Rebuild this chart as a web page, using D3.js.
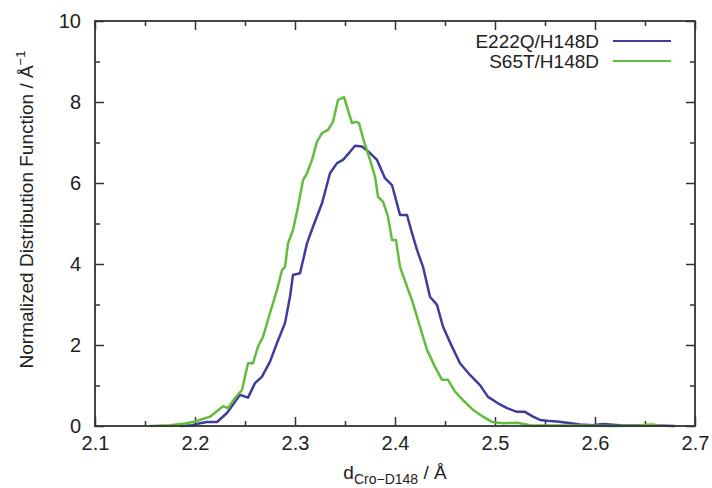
<!DOCTYPE html>
<html>
<head>
<meta charset="utf-8">
<script src="https://cdn.jsdelivr.net/npm/d3@7"></script>
<style>
  body { margin: 0; background: #fff; overflow: hidden; }
  svg { display: block; }
  svg text { font-family: "Liberation Sans", Arial, sans-serif; fill: #222; }
</style>
</head>
<body>
<svg width="712" height="488"></svg>
<script>
// S65T/H148D (green)
const greenX = [2.155, 2.175, 2.19, 2.2, 2.215, 2.228, 2.233, 2.24, 2.247, 2.253, 2.258, 2.263, 2.268, 2.275, 2.282, 2.287, 2.29, 2.293, 2.298, 2.303, 2.308, 2.312, 2.317, 2.322, 2.327, 2.333, 2.338, 2.343, 2.349, 2.353, 2.357, 2.361, 2.364, 2.368, 2.375, 2.38, 2.383, 2.388, 2.393, 2.397, 2.401, 2.405, 2.412, 2.418, 2.425, 2.432, 2.44, 2.447, 2.453, 2.46, 2.468, 2.478, 2.488, 2.497, 2.508, 2.522, 2.535, 2.552, 2.58, 2.62, 2.645, 2.652, 2.658, 2.665];
const greenY = [0, 0.02, 0.06, 0.11, 0.23, 0.49, 0.44, 0.69, 0.89, 1.55, 1.55, 1.96, 2.2, 2.79, 3.36, 3.85, 3.93, 4.51, 4.84, 5.41, 6.07, 6.24, 6.57, 7.02, 7.23, 7.31, 7.51, 8.05, 8.12, 7.8, 7.48, 7.51, 7.48, 7.11, 6.57, 6.16, 5.66, 5.54, 5.17, 4.59, 4.59, 3.93, 3.44, 3.03, 2.45, 1.88, 1.46, 1.14, 1.14, 0.85, 0.64, 0.4, 0.23, 0.1, 0.07, 0.08, 0.02, 0.01, 0.01, 0, 0.01, 0.03, 0.04, 0];

// E222Q/H148D (blue)
const blueX = [2.185, 2.195, 2.205, 2.212, 2.222, 2.232, 2.245, 2.253, 2.26, 2.267, 2.275, 2.282, 2.29, 2.295, 2.298, 2.305, 2.312, 2.318, 2.327, 2.335, 2.342, 2.348, 2.355, 2.36, 2.367, 2.375, 2.382, 2.39, 2.397, 2.403, 2.405, 2.412, 2.417, 2.422, 2.428, 2.435, 2.442, 2.448, 2.457, 2.465, 2.475, 2.485, 2.493, 2.503, 2.512, 2.522, 2.53, 2.538, 2.545, 2.552, 2.562, 2.572, 2.585, 2.598, 2.608, 2.625, 2.642, 2.66, 2.68];
const blueY = [0, 0.01, 0.07, 0.1, 0.1, 0.32, 0.77, 0.7, 1.06, 1.22, 1.59, 2.05, 2.54, 3.19, 3.73, 3.77, 4.51, 4.92, 5.5, 6.24, 6.49, 6.57, 6.77, 6.92, 6.9, 6.74, 6.57, 6.12, 5.95, 5.4, 5.21, 5.21, 4.76, 4.35, 3.93, 3.19, 2.99, 2.45, 1.96, 1.55, 1.26, 1.01, 0.72, 0.56, 0.44, 0.35, 0.35, 0.23, 0.15, 0.13, 0.11, 0.08, 0.04, 0.02, 0.05, 0.02, 0.01, 0.01, 0];

const xTicks = [2.1, 2.2, 2.3, 2.4, 2.5, 2.6, 2.7];
const xMinor = [2.15, 2.25, 2.35, 2.45, 2.55, 2.65];
const yTicks = [0, 2, 4, 6, 8, 10];
const yMinor = [1, 3, 5, 7, 9];

const series = [
  { name: "E222Q/H148D", xs: blueX, ys: blueY, color: "#3d3d9e" },
  { name: "S65T/H148D", xs: greenX, ys: greenY, color: "#62bd3e" }
];

const svg = d3.select("svg");
const margin = { top: 21, right: 17, bottom: 62, left: 95 };
const width = 712, height = 488;
const innerWidth = width - margin.left - margin.right;
const innerHeight = height - margin.top - margin.bottom;

const g = svg.append("g")
  .attr("transform", `translate(${margin.left},${margin.top})`);

const x = d3.scaleLinear().domain([2.1, 2.7]).range([0, innerWidth]);
const y = d3.scaleLinear().domain([0, 10]).range([innerHeight, 0]);

const axisColor = "#333";

function styleAxis(sel) {
  sel.select(".domain").remove();
  sel.selectAll("line").attr("stroke", axisColor).attr("stroke-width", 1.5);
  sel.selectAll("text")
    .style("font-size", "20px")
    .attr("fill", "#222");
}

// bottom axis, major with labels
g.append("g")
  .attr("transform", `translate(0,${innerHeight})`)
  .call(d3.axisBottom(x).tickValues(xTicks).tickSize(-9).tickPadding(10).tickFormat(d3.format(".1f")))
  .call(styleAxis);
g.append("g")
  .attr("transform", `translate(0,${innerHeight})`)
  .call(d3.axisBottom(x).tickValues(xMinor).tickSize(-5).tickFormat(""))
  .call(styleAxis);
// top axis mirror
g.append("g")
  .call(d3.axisTop(x).tickValues(xTicks).tickSize(-9).tickFormat(""))
  .call(styleAxis);
g.append("g")
  .call(d3.axisTop(x).tickValues(xMinor).tickSize(-5).tickFormat(""))
  .call(styleAxis);

// left axis
g.append("g")
  .call(d3.axisLeft(y).tickValues(yTicks).tickSize(-9).tickPadding(14).tickFormat(d3.format("d")))
  .call(styleAxis);
g.append("g")
  .call(d3.axisLeft(y).tickValues(yMinor).tickSize(-5).tickFormat(""))
  .call(styleAxis);
// right axis mirror
g.append("g")
  .attr("transform", `translate(${innerWidth},0)`)
  .call(d3.axisRight(y).tickValues(yTicks).tickSize(-9).tickFormat(""))
  .call(styleAxis);
g.append("g")
  .attr("transform", `translate(${innerWidth},0)`)
  .call(d3.axisRight(y).tickValues(yMinor).tickSize(-5).tickFormat(""))
  .call(styleAxis);

// curves
const line = d3.line()
  .x(d => x(d[0]))
  .y(d => y(d[1]));

series.forEach(s => {
  const pts = s.xs.map((v, i) => [v, s.ys[i]]);
  g.append("path")
    .datum(pts)
    .attr("fill", "none")
    .attr("stroke", s.color)
    .attr("stroke-width", 2.5)
    .attr("stroke-linejoin", "round")
    .attr("d", line);
});

// frame
g.append("rect")
  .attr("x", 0)
  .attr("y", 0)
  .attr("width", innerWidth)
  .attr("height", innerHeight)
  .attr("fill", "none")
  .attr("stroke", axisColor)
  .attr("stroke-width", 1.8);

// legend
const legend = g.append("g").attr("transform", `translate(${innerWidth - 96},20)`);
series.forEach((s, i) => {
  const row = legend.append("g").attr("transform", `translate(0,${i * 20})`);
  row.append("text")
    .attr("x", 0)
    .attr("y", 7)
    .attr("text-anchor", "end")
    .style("font-size", "19px")
    .text(s.name);
  row.append("line")
    .attr("x1", 14)
    .attr("x2", 72)
    .attr("y1", 0)
    .attr("y2", 0)
    .attr("stroke", s.color)
    .attr("stroke-width", 2.2);
});

// axis titles
const yTitle = svg.append("text")
  .attr("transform", `translate(33,${margin.top + innerHeight / 2 - 14}) rotate(-90)`)
  .attr("text-anchor", "middle")
  .style("font-size", "19px");
yTitle.append("tspan").text("Normalized Distribution Function / Å");
yTitle.append("tspan").attr("dy", -8).style("font-size", "13px").text("−1");

const xTitle = svg.append("text")
  .attr("x", margin.left + innerWidth / 2)
  .attr("y", 479)
  .attr("text-anchor", "middle")
  .style("font-size", "19px");
xTitle.append("tspan").text("d");
xTitle.append("tspan").attr("dy", 5).style("font-size", "14px").text("Cro−D148");
xTitle.append("tspan").attr("dy", -5).text(" / Å");
</script>
</body>
</html>
